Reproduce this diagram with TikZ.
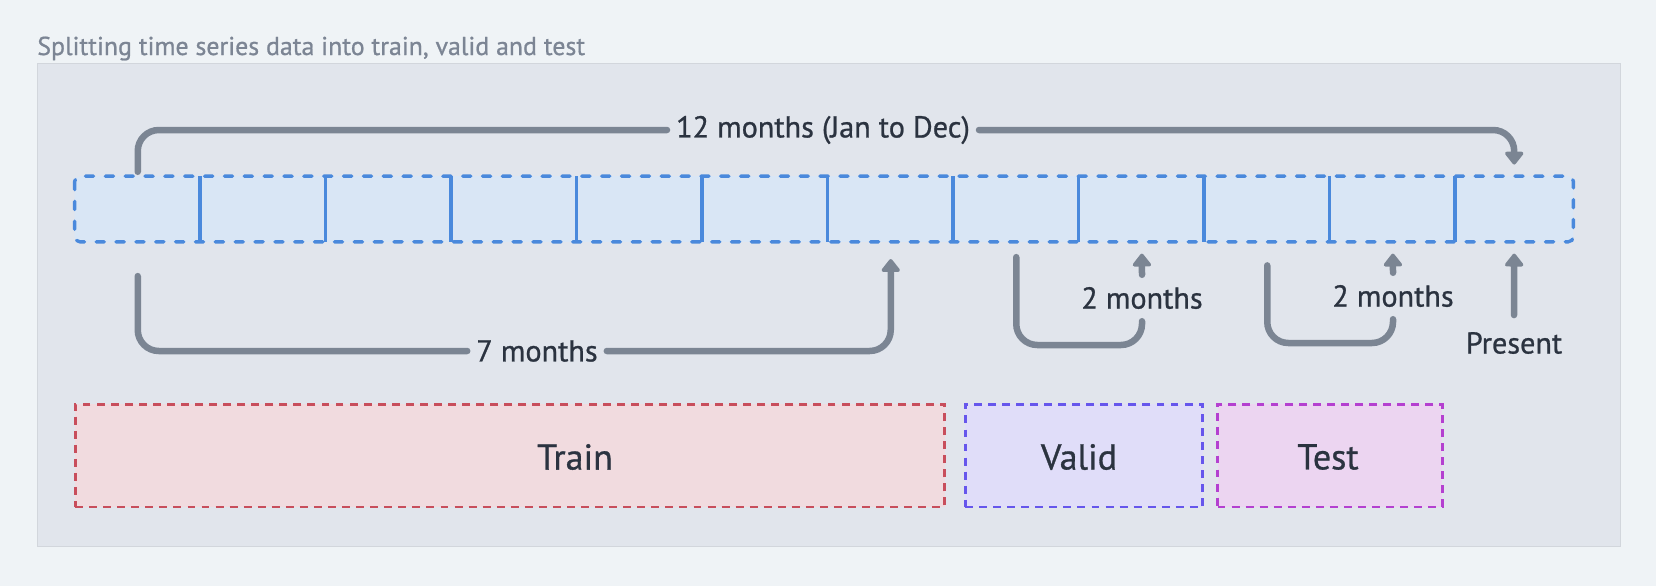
\documentclass[tikz,border=0pt]{standalone}
\usepackage{fontspec}
\setmainfont{PT Sans}[FakeBold=0.8]
\usetikzlibrary{arrows.meta,calc,positioning}

\definecolor{pagebg}{HTML}{EFF3F6}
\definecolor{panelbg}{HTML}{E1E5EC}
\definecolor{panelline}{HTML}{D2D6DC}
\definecolor{stripfill}{HTML}{D9E6F5}
\definecolor{stripline}{HTML}{4A89DC}
\definecolor{connc}{HTML}{7B8593}
\definecolor{textc}{HTML}{2B3340}
\definecolor{titlec}{HTML}{7C8594}
\definecolor{trainfill}{HTML}{F1DBDF}
\definecolor{trainline}{HTML}{C84E5C}
\definecolor{validfill}{HTML}{E0DDF9}
\definecolor{validline}{HTML}{6656EC}
\definecolor{testfill}{HTML}{ECD5F1}
\definecolor{testline}{HTML}{B440D0}

\tikzset{
  cell/.style={minimum width=2.51cm, minimum height=1.3cm, inner sep=0pt},
  conn/.style={draw=connc, line width=3.7pt, line cap=round, rounded corners=12pt},
  tip/.style={-{Triangle[length=8pt,width=12pt,round]}},
  lbl/.style={text=textc, font=\fontsize{17.2}{20}\selectfont, inner xsep=5pt, inner ysep=6.8pt},
  splitbox/.style={minimum height=2.06cm, inner sep=0pt, line width=1.7pt, dash pattern=on 4.5pt off 3.5pt},
  boxlbl/.style={text=textc, font=\fontsize{20.5}{24}\selectfont},
}

\begin{document}
\begin{tikzpicture}[x=0.02cm, y=-0.02cm]
            % Page and panel
            \fill[pagebg] (0,0) rectangle (1656,586);
            \useasboundingbox (0,0) rectangle (1656,586);
            \node[anchor=base west, inner sep=0pt, text=titlec, font=\fontsize{14.7}{17}\selectfont] (title) at (37,55) {Splitting time series data into train, valid and test};
            \draw[panelline, fill=panelbg] (37,63) rectangle (1620,546);

            % Month strip
            \foreach \i in {1,...,11} {
                \node[cell] (m\i) at ({75+(\i-0.5)*125.5}, 209) {};
            }
            \node[cell, minimum width=2.354cm] (m12) at (1514.2, 209) {};
            \draw[stripline, fill=stripfill, line width=1.9pt, line cap=round, dash pattern=on 4.7pt off 6.6pt, rounded corners=3pt] (m1.north west) rectangle (m12.south east);
            \foreach \i in {2,...,12} {
                \draw[stripline, line width=2pt] (m\i.north west) -- (m\i.south west);
            }

            % 12 months
            \node[lbl] (lbl12) at (823,130) {12 months (Jan to Dec)};
            \draw[conn, shorten <=2.5pt] (m1.north) |- (lbl12.west);
            \draw[conn, tip, shorten >=6.6pt] (lbl12.east) -| (m12.north);

            % 7 months
            \node[lbl] (lbl7) at (537,351) {7 months};
            \draw[conn, shorten <=19.5pt] (m1.south) |- (lbl7.west);
            \draw[conn, tip, shorten >=9.8pt] (lbl7.east) -| (m7.south);

            % 2 months (valid)
            \node[lbl] (lbl2a) at (1142,298) {2 months};
            \coordinate (b2a) at (1142,345);
            \draw[conn, shorten <=8.7pt] (m8.south) |- (b2a) -- (lbl2a.south);
            \draw[conn, tip, shorten >=6.7pt] (lbl2a.north) -- (m9.south);

            % 2 months (test)
            \node[lbl] (lbl2b) at (1393,296) {2 months};
            \coordinate (b2b) at (1393,343);
            \draw[conn, shorten <=13.4pt] (m10.south) |- (b2b) -- (lbl2b.south);
            \draw[conn, tip, shorten >=6.7pt] (lbl2b.north) -- (m11.south);

            % Present
            \node[lbl] (present) at (1514,343) {Present};
            \draw[conn, tip, shorten <=2.7pt, shorten >=6.7pt] (present.north) -- (m12.south);

            % Split boxes
            \node[splitbox, draw=trainline, fill=trainfill, minimum width=17.4cm] (train) at (510,455.5) {};
            \node[splitbox, draw=validline, fill=validfill, minimum width=4.76cm] (valid) at (1084,455.5) {};
            \node[splitbox, draw=testline, fill=testfill, minimum width=4.5cm] (test) at (1330,455.5) {};
            \node[boxlbl] (trainlbl) at (575,457) {Train};
            \node[boxlbl] (validlbl) at (1079,457) {Valid};
            \node[boxlbl] (testlbl) at (1328,457) {Test};
\end{tikzpicture}
\end{document}
